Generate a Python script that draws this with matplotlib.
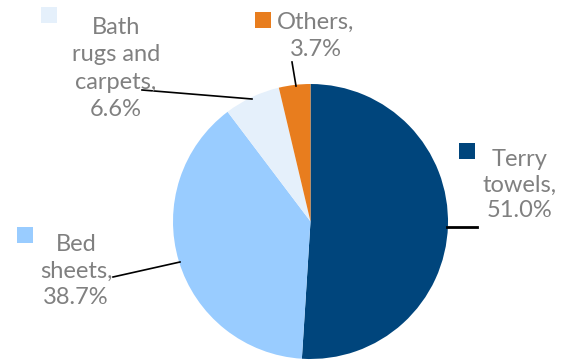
import matplotlib
matplotlib.use("Agg")
import matplotlib.pyplot as plt
from matplotlib.lines import Line2D
from matplotlib.patches import Rectangle

categories = ["Terry towels", "Bed sheets", "Bath rugs and carpets", "Others"]
values = [51.0, 38.7, 6.6, 3.7]
label_texts = ["Terry\ntowels,\n51.0%", "Bed\nsheets,\n38.7%", "Bath\nrugs and\ncarpets,\n6.6%", "Others,\n3.7%"]
colors = ["#00457C", "#99CCFF", "#E5F0FB", "#E87D1E"]

W, H = 564, 360
fig = plt.figure(figsize=(W / 100, H / 100), dpi=100)

cx, cy, r = 310.5, 221.5, 137.5
ax = fig.add_axes([(cx - r) / W, (H - cy - r) / H, 2 * r / W, 2 * r / H])
ax.pie(values, colors=colors, startangle=90, counterclock=False,
       wedgeprops=dict(linewidth=0))
ax.set_xlim(-1, 1)
ax.set_ylim(-1, 1)
ax.set_aspect("equal")
ax.axis("off")

def fx(px):
    return px / W

def fy(py):
    return 1 - py / H

# label positions (pixel coords): text center, legend square, leader line
label_pos = [(520, 185), (76, 271), (116, 68.5), (316, 36)]
square_pos = [(459, 143), (17, 227), (41, 7), (255, 12)]
leaders = [((447, 227), (477, 227)), ((180, 262), (113, 277)),
           ((252, 99), (142, 90)), ((296, 86), (292, 62))]
line_spacing = [1.28, 1.33, 1.36, 1.36]

for i, txt in enumerate(label_texts):
    x, y = label_pos[i]
    fig.text(fx(x), fy(y), txt, ha="center", va="center", fontsize=17,
             color="#808080", family="Lato", linespacing=line_spacing[i])
    sx, sy = square_pos[i]
    fig.patches.append(Rectangle((fx(sx), fy(sy + 16)), 16 / W, 16 / H,
                                 transform=fig.transFigure, color=colors[i],
                                 linewidth=0))
    (x0, y0), (x1, y1) = leaders[i]
    fig.lines.append(Line2D([fx(x0), fx(x1)], [fy(y0), fy(y1)],
                            transform=fig.transFigure, color="black",
                            linewidth=1.2 if i else 2.0))

fig.savefig("out.png", dpi=100)
